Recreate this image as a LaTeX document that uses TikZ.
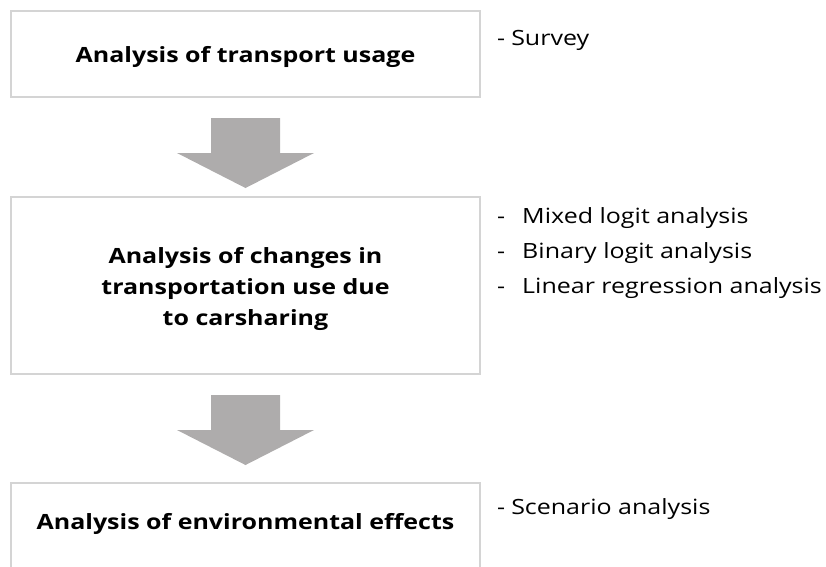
\documentclass[tikz,border=0pt]{standalone}
\usepackage{fontspec}
\setmainfont{Open Sans}[FakeStretch=1.19]
\usetikzlibrary{positioning}
\definecolor{boxline}{HTML}{D4D4D4}
\definecolor{arrowgray}{HTML}{AEACAC}
\tikzset{
  box/.style={draw=boxline, line width=2pt, fill=white, minimum width=469pt, inner sep=0pt},
  boxtext/.style={font=\fontsize{21}{31}\selectfont\bfseries, align=center},
  note/.style={font=\fontsize{21}{35}\selectfont, anchor=west, align=left, inner sep=0pt},
  blockarrow/.style={fill=arrowgray}
}
\begin{document}
\begin{tikzpicture}[x=1pt,y=-1pt]
  \useasboundingbox (0,0) rectangle (826,566);
  \clip (0,0) rectangle (826,566);
  % boxes
  \node[box, minimum height=86pt] (usage) at (245.5,54) {};
  \node[boxtext] (usagetext) at (245.5,57) {Analysis of transport usage};
  \node[box, minimum height=177pt] (changes) at (245.5,285.5) {};
  \node[boxtext] (changestext) at (245.5,289) {Analysis of changes in\\transportation use due\\to carsharing};
  \node[box, minimum height=170pt, anchor=north] (effects) at (245.5,482) {};
  \node[boxtext] (effectstext) at (245.5,524) {Analysis of environmental effects};
  % block arrows
  \foreach \a in {usage,changes}
    \fill[blockarrow, shift={(\a.south)}] (-34.5,20) -- (34.5,20) -- (34.5,55) -- (68.5,55)
      -- (0,90) -- (-68.5,55) -- (-34.5,55) -- cycle;
  % notes
  \node[note] (survey) at (497,40) {-\hspace{6pt}Survey};
  \node[note] (methods) at (497,253) {-\hspace{17pt}Mixed logit analysis\\-\hspace{17pt}Binary logit analysis\\-\hspace{17pt}Linear regression analysis};
  \node[note] (scenario) at (497,509) {-\hspace{6pt}Scenario analysis};
\end{tikzpicture}
\end{document}
